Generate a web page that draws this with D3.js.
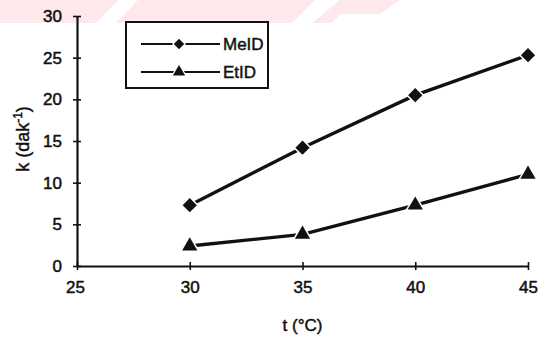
<!DOCTYPE html>
<html>
<head>
<meta charset="utf-8">
<script src="https://cdn.jsdelivr.net/npm/d3@7"></script>
<style>
  html, body { margin: 0; padding: 0; background: #fff; }
  svg { display: block; }
  text { font-family: "Liberation Sans", Arial, sans-serif; fill: #111; }
</style>
</head>
<body>
<svg id="chart" width="538" height="341"></svg>
<script>
// Rate constant k versus temperature for two series
const temperatures = [30, 35, 40, 45];
const meidValues = [7.3, 14.2, 20.5, 25.3];
const etidValues = [2.4, 3.8, 7.3, 11.0];
const seriesNames = ["MeID", "EtID"];
const xTicks = [25, 30, 35, 40, 45];
const yTicks = [0, 5, 10, 15, 20, 25, 30];

const svg = d3.select("#chart");

// faint pink header band with diagonal light gaps
const band = svg.append("g");
band.append("path")
  .attr("d", "M0,0 L118,0 L96,23 L0,23 Z M138,0 L315,0 L292,23 L116,23 Z M340,0 L400,0 L380,14 L340,14 L332,23 L312,23 Z")
  .attr("fill", "#fde8eb");

const x = d3.scaleLinear().domain([25, 45]).range([77, 528]);
const y = d3.scaleLinear().domain([0, 30]).range([266, 16]);

// axes
const xAxis = svg.append("g").attr("transform", "translate(0,266)")
  .call(d3.axisBottom(x).tickValues(xTicks).tickSizeInner(4).tickSizeOuter(0).tickPadding(11));
const yAxis = svg.append("g").attr("transform", "translate(77,0)")
  .call(d3.axisLeft(y).tickValues(yTicks).tickSizeInner(4).tickSizeOuter(0).tickPadding(9));

[xAxis, yAxis].forEach(a => {
  a.select(".domain").attr("stroke", "#111").attr("stroke-width", 2.2);
  a.selectAll(".tick line").attr("stroke", "#111").attr("stroke-width", 1.6);
  a.selectAll(".tick text").attr("font-size", 17).attr("fill", "#111")
    .attr("stroke", "#111").attr("stroke-width", 0.5);
});
// ticks cross the axis line
xAxis.selectAll(".tick line").attr("y1", -4).attr("y2", 4);
yAxis.selectAll(".tick line").attr("x1", -4).attr("x2", 4);
xAxis.selectAll(".tick text").attr("dy", "0.71em");
xAxis.selectAll(".tick").filter(d => d === 25).select("text").attr("dx", -2);
yAxis.selectAll(".tick text").attr("dx", -2);

// axis titles
svg.append("text")
  .attr("x", x(35)).attr("y", 331)
  .attr("text-anchor", "middle").attr("font-size", 17)
  .attr("stroke", "#111").attr("stroke-width", 0.45)
  .text("t (°C)");

const yTitle = svg.append("text")
  .attr("transform", "translate(29,139) rotate(-90)")
  .attr("text-anchor", "middle").attr("font-size", 18)
  .attr("stroke", "#111").attr("stroke-width", 0.45);
yTitle.append("tspan").text("k (dak");
yTitle.append("tspan").attr("font-size", 12).attr("dy", -7).text("-1");
yTitle.append("tspan").attr("dy", 7).text(")");

// series lines and markers
const line = d3.line().x(d => x(d[0])).y(d => y(d[1]));
const diamond = d3.symbol().type(d3.symbolDiamond2).size(130);
const triangle = d3.symbol().type(d3.symbolTriangle).size(100);

function drawSeries(values, sym) {
  const pts = temperatures.map((t, i) => [t, values[i]]);
  svg.append("path").datum(pts)
    .attr("d", line).attr("fill", "none")
    .attr("stroke", "#111").attr("stroke-width", 3.4);
  svg.selectAll(null).data(pts).enter().append("path")
    .attr("d", sym)
    .attr("transform", d => `translate(${x(d[0])},${y(d[1])})`)
    .attr("fill", "#111").attr("stroke", "#fff").attr("stroke-width", 3)
    .attr("paint-order", "stroke");
}
drawSeries(meidValues, diamond);
drawSeries(etidValues, triangle);

// legend
const legend = svg.append("g");
legend.append("rect")
  .attr("x", 126).attr("y", 22).attr("width", 142).attr("height", 66)
  .attr("fill", "#fff").attr("stroke", "#111").attr("stroke-width", 2);
const rows = [
  { name: seriesNames[0], sym: d3.symbol().type(d3.symbolDiamond2).size(70), yy: 44 },
  { name: seriesNames[1], sym: d3.symbol().type(d3.symbolTriangle).size(65), yy: 72 }
];
rows.forEach(r => {
  legend.append("line").attr("x1", 141).attr("x2", 220).attr("y1", r.yy).attr("y2", r.yy)
    .attr("stroke", "#111").attr("stroke-width", 1.9);
  legend.append("path").attr("d", r.sym)
    .attr("transform", `translate(179,${r.yy})`)
    .attr("fill", "#111").attr("stroke", "#fff").attr("stroke-width", 2.5)
    .attr("paint-order", "stroke");
  legend.append("text").attr("x", 223).attr("y", r.yy + 6)
    .attr("font-size", 17).attr("stroke", "#111").attr("stroke-width", 0.45)
    .text(r.name);
});
</script>
</body>
</html>
